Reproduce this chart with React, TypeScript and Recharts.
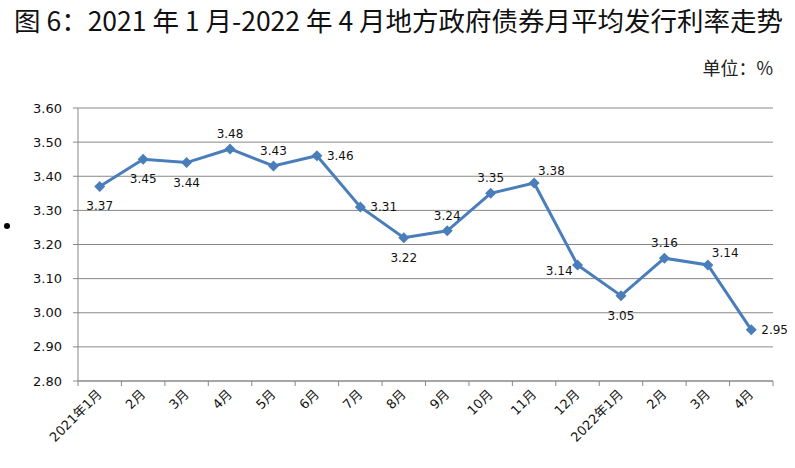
import { CartesianGrid, Line, LineChart, XAxis, YAxis, LabelList } from 'recharts';

const months = ['2021年1月', '2月', '3月', '4月', '5月', '6月', '7月', '8月', '9月', '10月', '11月', '12月', '2022年1月', '2月', '3月', '4月'];
const rates = [3.37, 3.45, 3.44, 3.48, 3.43, 3.46, 3.31, 3.22, 3.24, 3.35, 3.38, 3.14, 3.05, 3.16, 3.14, 2.95];
const yTicks = [2.8, 2.9, 3.0, 3.1, 3.2, 3.3, 3.4, 3.5, 3.6];
// where Excel put each data label
const labelPlacement = ['below', 'below', 'below', 'above', 'above', 'right', 'right', 'below', 'above', 'above', 'aboveRight', 'left', 'below', 'above', 'aboveRight', 'right'];

const data = months.map((m, i) => ({ month: m, rate: rates[i] }));

const W = 795;
const H = 468;
const PLOT_LEFT = 78;
const PLOT_RIGHT = 773;
const PLOT_TOP = 108;
const PLOT_BOTTOM = 381;
const BAND = (PLOT_RIGHT - PLOT_LEFT) / months.length;
const BLUE = '#4a7ebb';
const GRID = '#888888';
const NUM_FONT = '"DejaVu Sans", "Noto Sans CJK SC", sans-serif';

const offsets: Record<string, { dx: number; dy: number; anchor: 'start' | 'middle' | 'end' }> = {
  below: { dx: 0, dy: 20, anchor: 'middle' },
  above: { dx: 0, dy: -15, anchor: 'middle' },
  right: { dx: 10, dy: 0, anchor: 'start' },
  left: { dx: -5, dy: 6, anchor: 'end' },
  aboveRight: { dx: 4, dy: -12, anchor: 'start' },
};

function Diamond(props: any) {
  const { cx, cy } = props;
  if (cx == null || cy == null) return null;
  const r = 5.5;
  return <polygon points={`${cx},${cy - r} ${cx + r},${cy} ${cx},${cy + r} ${cx - r},${cy}`} fill={BLUE} />;
}

function PointLabel(props: any) {
  const { x, y, value, index } = props;
  const o = offsets[labelPlacement[index]] || offsets.above;
  return (
    <text x={x + o.dx} y={y + o.dy} textAnchor={o.anchor} dominantBaseline="central" fontSize={12} fontFamily={NUM_FONT} fill="#111">
      {Number(value).toFixed(2)}
    </text>
  );
}

function MonthTick(props: any) {
  const { x, payload, index } = props;
  const left = x - BAND / 2;
  const y = PLOT_BOTTOM;
  return (
    <g>
      <line x1={left} y1={y} x2={left} y2={y + 5} stroke={GRID} />
      {index === months.length - 1 && <line x1={x + BAND / 2} y1={y} x2={x + BAND / 2} y2={y + 5} stroke={GRID} />}
      <text
        x={x + 3}
        y={y + 14}
        textAnchor="end"
        transform={`rotate(-45 ${x + 3} ${y + 14})`}
        fontSize={13}
        fontFamily={NUM_FONT}
        fill="#111"
      >
        {payload.value}
      </text>
    </g>
  );
}

export default function App() {
  return (
    <div style={{ position: 'absolute', left: 0, top: 0, width: W, height: H, background: '#fff', overflow: 'hidden' }}>
      <div
        style={{
          position: 'absolute',
          left: 14,
          top: 2,
          fontFamily: '"Noto Sans CJK SC", sans-serif',
          fontSize: 26.5,
          color: '#111',
          whiteSpace: 'nowrap',
          lineHeight: '36px',
        }}
      >
        图 6：2021 年 1 月-2022 年 4 月地方政府债券月平均发行利率走势
      </div>
      <div
        style={{
          position: 'absolute',
          right: 22,
          top: 54,
          fontFamily: '"Noto Sans CJK SC", sans-serif',
          fontSize: 18,
          color: '#222',
          whiteSpace: 'nowrap',
          lineHeight: '26px',
        }}
      >
        单位：%
      </div>
      <div style={{ position: 'absolute', left: 4, top: 223, width: 6, height: 6, borderRadius: 3, background: '#000' }} />
      <div style={{ position: 'absolute', left: 0, top: 0 }}>
        <LineChart
          width={W}
          height={H}
          data={data}
          margin={{ top: PLOT_TOP, right: W - PLOT_RIGHT, bottom: 0, left: 0 }}
        >
          <CartesianGrid vertical={false} stroke={GRID} strokeWidth={1} />
          <XAxis
            dataKey="month"
            interval={0}
            height={H - PLOT_BOTTOM}
            padding={{ left: BAND / 2, right: BAND / 2 }}
            axisLine={{ stroke: GRID }}
            tickLine={false}
            tick={<MonthTick />}
          />
          <YAxis
            domain={[2.8, 3.6]}
            ticks={yTicks}
            width={PLOT_LEFT}
            axisLine={{ stroke: GRID }}
            tickLine={{ stroke: GRID }}
            tickSize={5}
            tickMargin={11}
            tickFormatter={(v: number) => v.toFixed(2)}
            tick={{ fontSize: 13, fontFamily: NUM_FONT, fill: '#111' }}
            allowDataOverflow
          />
          <Line
            type="linear"
            dataKey="rate"
            stroke={BLUE}
            strokeWidth={3}
            dot={<Diamond />}
            activeDot={false}
            isAnimationActive={false}
          >
            <LabelList dataKey="rate" content={<PointLabel />} />
          </Line>
        </LineChart>
      </div>
    </div>
  );
}
